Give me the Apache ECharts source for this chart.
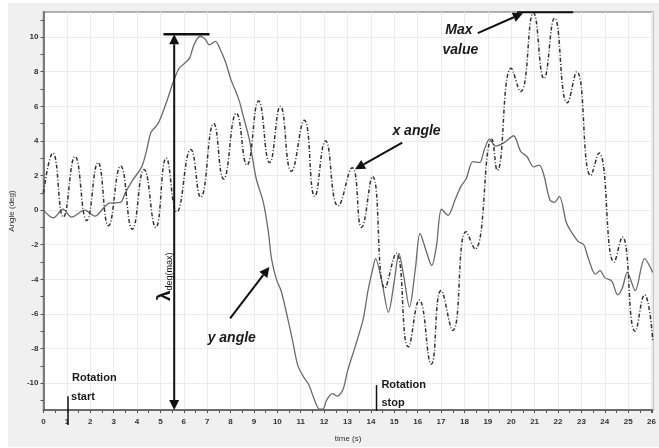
<!DOCTYPE html>
<html>
<head>
<meta charset="UTF-8">
<title>Angle vs time</title>
<script src="https://cdn.jsdelivr.net/npm/echarts@6/dist/echarts.min.js"></script>
<style>html,body{margin:0;padding:0;background:#fff;}</style>
</head>
<body>
<div id="main" style="width:659px;height:448px;"></div>
<script type="text/javascript">
// y angle (solid line): [time (s), angle (deg)]
var yAngle = [
    [0, 0], [0.42, -0.45], [0.84, 0.05], [1.2, -0.4], [1.76, 0], [2.2, -0.35], [2.6, 0.17], [2.8, 0.4],
    [3.3, 0.45], [3.5, 1.0], [3.8, 1.7], [4.2, 2.5], [4.4, 3.4], [4.6, 4.5], [4.9, 5.0], [5.25, 6.2],
    [5.55, 7.4], [5.8, 8.2], [6.05, 8.5], [6.25, 8.8], [6.45, 9.6], [6.7, 10.05], [6.9, 9.9], [7.1, 9.55],
    [7.35, 9.75], [7.57, 9.25], [7.8, 8.5], [8.0, 7.6], [8.35, 6.4], [8.55, 5.4], [8.8, 4.1], [8.95, 2.9],
    [9.1, 1.8], [9.4, 0.45], [9.6, -1.1], [9.75, -2.8], [9.96, -4.0], [10.17, -4.7], [10.45, -6.3],
    [10.66, -7.6], [10.88, -9.0], [11.15, -9.7], [11.35, -10.1], [11.57, -10.9], [11.8, -11.5],
    [11.95, -11.5], [12.1, -11.0], [12.35, -10.6], [12.55, -10.75], [12.8, -10.4], [13.0, -9.3],
    [13.3, -8.0], [13.67, -6.3], [13.87, -4.7], [14.08, -3.4], [14.2, -2.8], [14.45, -4.0], [14.75, -5.9],
    [15.0, -4.1], [15.2, -2.5], [15.4, -3.8], [15.65, -5.6], [15.9, -3.4], [16.1, -1.35], [16.35, -2.3],
    [16.6, -3.2], [16.8, -2.1], [17.02, 0.05], [17.3, -0.3], [17.6, 0.6], [17.86, 1.4], [18.07, 1.8],
    [18.36, 2.8], [18.65, 2.75], [18.85, 3.5], [19.07, 4.1], [19.33, 3.7], [19.7, 3.9], [20.1, 4.3],
    [20.4, 3.4], [20.67, 3.1], [20.96, 2.5], [21.2, 2.6], [21.4, 2.0], [21.65, 0.6], [21.85, 0.45],
    [22.06, 0.8], [22.35, -0.7], [22.5, -1.1], [22.85, -1.8], [23.1, -2.0], [23.3, -2.8], [23.6, -3.7],
    [23.8, -3.5], [24.0, -3.9], [24.3, -4.1], [24.55, -4.9], [24.75, -4.5], [24.96, -3.6], [25.3, -4.65],
    [25.7, -2.8], [26.05, -3.6]
];
// x angle (dash-dot line): peaks and troughs
var xAngle = [
    [0, 1.0], [0.4, 3.3], [0.85, -0.4], [1.35, 3.1], [1.85, -0.6], [2.33, 2.75], [2.78, -0.9], [3.3, 2.55],
    [3.8, -1.1], [4.3, 2.35], [4.8, -1.0], [5.25, 3.0], [5.7, -0.1], [6.3, 3.5], [6.72, 0.75], [7.28, 5.0],
    [7.7, 1.8], [8.25, 5.6], [8.7, 2.6], [9.2, 6.3], [9.67, 2.75], [10.13, 6.0], [10.6, 2.25], [11.15, 5.2],
    [11.6, 0.8], [12.06, 4.0], [12.6, 0.25], [13.2, 2.45], [13.6, -1.0], [14.07, 1.95], [14.6, -4.5],
    [15.08, -2.5], [15.6, -7.9], [16.07, -5.2], [16.58, -8.9], [17.0, -4.65], [17.5, -6.95], [18.07, -1.25],
    [18.45, -2.25], [19.17, 4.1], [19.4, 2.3], [20.0, 8.2], [20.4, 6.85], [20.95, 11.4], [21.4, 7.6],
    [21.85, 11.1], [22.4, 6.2], [22.8, 8.0], [23.4, 2.0], [23.75, 3.3], [24.4, -3.0], [24.75, -1.55],
    [25.3, -7.0], [25.7, -4.9], [26.05, -7.5]
];
var xTickLabels = [0, 1, 2, 3, 4, 5, 6, 7, 8, 9, 10, 11, 12, 13, 14, 15, 16, 17, 18, 19, 20, 21, 22, 23, 24, 25, 26];
var yTickLabels = [-10, -8, -6, -4, -2, 0, 2, 4, 6, 8, 10];
var yTicks = [-11, -10, -9, -8, -7, -6, -5, -4, -3, -2, -1, 0, 1, 2, 3, 4, 5, 6, 7, 8, 9, 10, 11];

var tickFont = {fontSize: 8, color: '#333', fontFamily: 'Liberation Sans', fontWeight: 'bold'};

var chart = echarts.init(document.getElementById('main'));
chart.setOption({
    backgroundColor: '#fff',
    animation: false,
    grid: {left: 38, top: 12, right: 0, bottom: 36, show: true, backgroundColor: '#fff', borderColor: '#999', borderWidth: 1.5},
    xAxis: {
        type: 'value', min: 0, max: 26.05, interval: 1,
        name: 'time (s)', nameLocation: 'middle', nameGap: 25,
        nameTextStyle: {fontSize: 8, color: '#333', fontFamily: 'Liberation Sans'},
        axisLine: {onZero: false, lineStyle: {color: '#555', width: 1.5}},
        axisTick: {length: 3, lineStyle: {color: '#555'}},
        minorTick: {show: true, splitNumber: 2, length: 3, lineStyle: {color: '#555'}},
        axisLabel: Object.assign({margin: 8, customValues: xTickLabels}, tickFont),
        splitLine: {show: true, lineStyle: {color: '#ececec', width: 1}}
    },
    yAxis: [{
        type: 'value', min: -11.55, max: 11.45,
        name: 'Angle (deg)', nameLocation: 'middle', nameGap: 22,
        nameTextStyle: {fontSize: 8, color: '#333', fontFamily: 'Liberation Sans'},
        axisLine: {show: true, onZero: false, lineStyle: {color: '#555', width: 1.5}},
        axisTick: {show: true, length: 3, customValues: yTicks, lineStyle: {color: '#555'}},
        axisLabel: Object.assign({margin: 5, customValues: yTickLabels}, tickFont),
        splitLine: {show: false}
    }, {
        type: 'value', min: -11.55, max: 11.45,
        axisLine: {show: false},
        axisTick: {show: false, customValues: yTickLabels},
        axisLabel: {show: false},
        splitLine: {show: true, lineStyle: {color: '#ececec', width: 1}}
    }],
    series: [{
        name: 'y angle', type: 'line', data: yAngle, smooth: 0.3, symbol: 'none',
        lineStyle: {color: '#6a6a6a', width: 1.3}
    }, {
        name: 'x angle', type: 'line', data: xAngle, smooth: 0.5, symbol: 'none',
        lineStyle: {color: '#333', width: 1.5, type: [4, 2, 1, 2]}
    }]
});

function px(t, v) {
    return chart.convertToPixel({xAxisIndex: 0, yAxisIndex: 0}, [t, v]);
}
function seg(a, b, w) {
    return {type: 'line', z: 50, shape: {x1: a[0], y1: a[1], x2: b[0], y2: b[1]}, style: {stroke: '#111', lineWidth: w}};
}
function head(a, b, h, w) {
    var dx = b[0] - a[0], dy = b[1] - a[1], len = Math.sqrt(dx * dx + dy * dy);
    var ux = dx / len, uy = dy / len;
    var bx = b[0] - ux * h, by = b[1] - uy * h;
    return {
        base: [bx, by],
        el: {type: 'polygon', z: 51, shape: {points: [[b[0], b[1]], [bx - uy * w, by + ux * w], [bx + uy * w, by - ux * w]]}, style: {fill: '#111'}}
    };
}
function arrow(a, b) {
    var hd = head(a, b, 10, 5);
    return [seg(a, hd.base, 2), hd.el];
}
function label(p, txt, font) {
    return {type: 'text', z: 52, x: p[0], y: p[1], style: {text: txt, font: font, fill: '#1a1a1a', align: 'left', verticalAlign: 'middle'}};
}

var g = [];
var italic = 'italic bold 14px "Liberation Sans"';
var plain = 'bold 11px "Liberation Sans"';

// lambda(max) bar and double arrow
g.push(seg(px(5.13, 10.17), px(7.1, 10.17), 2.5));
var arrTop = px(5.59, 10.17), arrBot = px(5.59, -11.55);
var h1 = head(arrBot, arrTop, 10, 5), h2 = head(arrTop, arrBot, 10, 5);
g.push(seg(h1.base, h2.base, 2), h1.el, h2.el);
var lp = px(5.17, -3.85);
g.push({
    type: 'text', z: 52, x: lp[0], y: lp[1], rotation: Math.PI / 2,
    style: {
        text: '{l|λ}{s|deg(max)}', align: 'center', verticalAlign: 'middle', fill: '#111',
        rich: {
            l: {fontSize: 19, fontWeight: 'bold', fontFamily: 'Liberation Sans', verticalAlign: 'bottom'},
            s: {fontSize: 9, fontFamily: 'Liberation Sans', verticalAlign: 'bottom'}
        }
    }
});

// max value
g.push(seg(px(20.25, 11.44), px(22.65, 11.44), 2));
g = g.concat(arrow(px(18.57, 10.23), px(20.5, 11.38)));
g.push(label(px(17.18, 10.4), 'Max', italic));
g.push(label(px(17.06, 9.25), 'value', italic));

// x angle / y angle
g = g.concat(arrow(px(15.34, 3.9), px(13.32, 2.36)));
g.push(label(px(14.92, 4.54), 'x angle', italic));
g = g.concat(arrow(px(7.98, -6.26), px(9.66, -3.28)));
g.push(label(px(7.02, -7.41), 'y angle', italic));

// rotation start / stop
g.push(seg(px(1.05, -10.75), px(1.05, -12.41), 1.5));
g.push(label(px(1.22, -9.71), 'Rotation', plain));
g.push(label(px(1.18, -10.8), 'start', plain));
g.push(seg(px(14.24, -10.11), px(14.24, -11.6), 1.5));
g.push(label(px(14.45, -10.11), 'Rotation', plain));
g.push(label(px(14.45, -11.15), 'stop', plain));

// grey frame around the plot
g.push({type: 'rect', z: -10, silent: true, shape: {x: 8, y: 3, width: 651, height: 444}, style: {fill: '#f0f0f0'}});

chart.setOption({graphic: g});
</script>
</body>
</html>
